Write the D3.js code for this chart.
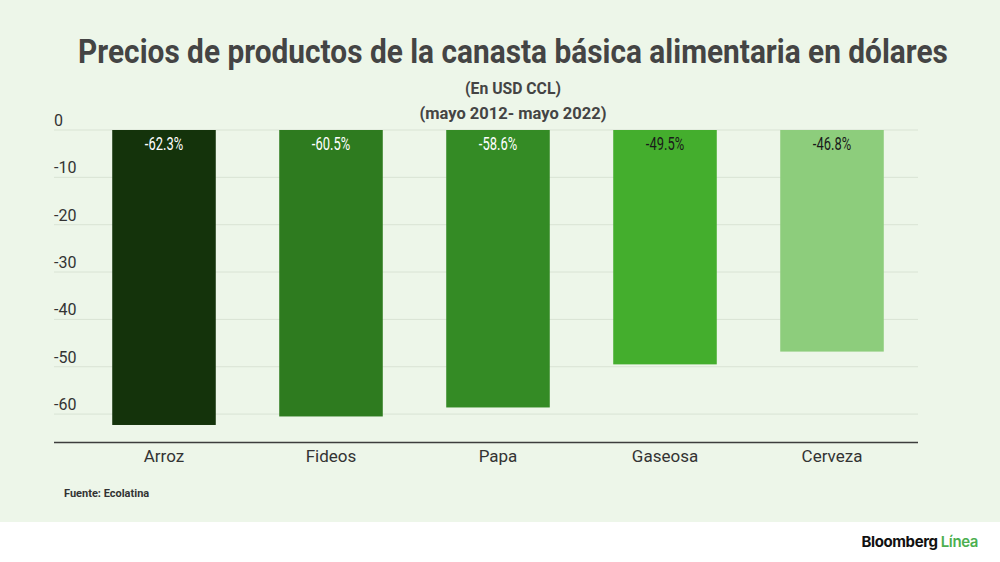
<!DOCTYPE html>
<html><head><meta charset="utf-8">
<script src="https://cdn.jsdelivr.net/npm/d3@7"></script>
<style>body{margin:0;background:#fff}svg{display:block}</style>
</head><body><svg id="c" width="1000" height="562"></svg>
<script>
const categories = ["Arroz","Fideos","Papa","Gaseosa","Cerveza"];
const values = [-62.3,-60.5,-58.6,-49.5,-46.8];
const barColors = ["#14330b","#2e7b1f","#348b25","#44ae2d","#8dcd7c"];
const labelColors = ["#ffffff","#ffffff","#ffffff","#1a1a1a","#1a1a1a"];
const yTicks = [0,-10,-20,-30,-40,-50,-60];

const svg = d3.select("#c");
svg.append("rect").attr("width",1000).attr("height",522).attr("fill","#edf6e9");

const x = d3.scaleBand().domain(categories).range([80.5,915.5]).paddingInner(0.38).paddingOuter(0.19);
const y = d3.scaleLinear().domain([-66,0]).range([442.5,130]);

// gridlines
svg.append("g").selectAll("line").data(yTicks).join("line")
  .attr("x1",54).attr("x2",918).attr("y1",d=>y(d)).attr("y2",d=>y(d))
  .attr("stroke","#d9e3d4").attr("stroke-width",1);

// y tick labels
svg.append("g").selectAll("text").data(yTicks).join("text")
  .attr("x",54).attr("y",d=>y(d)-4).attr("font-family","Roboto").attr("font-size",16)
  .attr("fill","#333").text(d=>d);

// bars
svg.append("g").selectAll("rect").data(values).join("rect")
  .attr("x",(d,i)=>x(categories[i])).attr("width",x.bandwidth())
  .attr("y",y(0)).attr("height",d=>y(d)-y(0))
  .attr("fill",(d,i)=>barColors[i]);

// value labels (condensed)
svg.append("g").selectAll("g").data(values).join("g")
  .attr("transform",(d,i)=>`translate(${x(categories[i])+x.bandwidth()/2},${y(0)+19.5}) scale(0.74,1)`)
  .append("text").attr("text-anchor","middle").attr("font-family","Roboto")
  .attr("font-size",17.5).attr("fill",(d,i)=>labelColors[i]).text(d=>d.toFixed(1)+"%");

// x axis line
svg.append("line").attr("x1",54).attr("x2",918).attr("y1",442.5).attr("y2",442.5)
  .attr("stroke","#3d3d3d").attr("stroke-width",1.5);

// category labels
svg.append("g").selectAll("text").data(categories).join("text")
  .attr("x",d=>x(d)+x.bandwidth()/2).attr("y",462)
  .attr("text-anchor","middle").attr("font-family","Roboto").attr("font-size",17)
  .attr("fill","#333").text(d=>d);

// titles (condensed, fitted to target widths)
function fitted(txt, cx, cy, size, target){
  const g = svg.append("g");
  const t = g.append("text").attr("text-anchor","middle").attr("font-family","Roboto")
    .attr("font-weight","bold").attr("font-size",size).attr("fill","#444").text(txt);
  const w = t.node().getComputedTextLength();
  g.attr("transform",`translate(${cx},${cy}) scale(${target/w},1)`);
}
fitted("Precios de productos de la canasta básica alimentaria en dólares",513,63,33,870);
fitted("(En USD CCL)",513,94,16.5,96);
fitted("(mayo 2012- mayo 2022)",513,119,16.5,187);

svg.append("text").attr("x",64).attr("y",497).attr("font-family","Roboto").attr("font-weight","bold")
  .attr("font-size",11).attr("fill","#333").text("Fuente: Ecolatina");

const logo = svg.append("text").attr("x",978).attr("y",547).attr("text-anchor","end")
  .attr("font-family","Inter, Liberation Sans").attr("font-weight","bold").attr("font-size",15).attr("letter-spacing",-0.4);
logo.append("tspan").attr("fill","#111").text("Bloomberg ");
logo.append("tspan").attr("fill","#4caf50").attr("font-weight","600").text("Línea");
</script></body></html>
